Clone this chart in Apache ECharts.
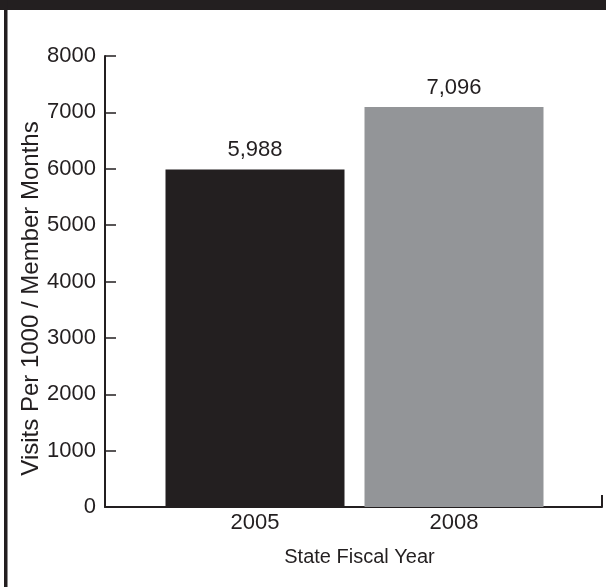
<!DOCTYPE html>
<html>
<head>
<meta charset="utf-8">
<script src="https://cdn.jsdelivr.net/npm/echarts@6/dist/echarts.min.js"></script>
<style>
  html, body { margin: 0; padding: 0; background: #fff; }
  #chart { width: 606px; height: 587px; }
</style>
</head>
<body>
<div id="chart"></div>
<script>
// 数据
const years = ['2005', '2008']
const visits = [5988, 7096]
const barColors = ['#231f20', '#939598']
const yTicks = [0, 1000, 2000, 3000, 4000, 5000, 6000, 7000, 8000]

const ink = '#231f20'
const font = 'Liberation Sans, Arial, Helvetica, sans-serif'

let chartDom = document.getElementById('chart')
let myChart = echarts.init(chartDom)
let option

option = {
    backgroundColor: '#fff',
    animation: false,
    textStyle: { fontFamily: font, color: ink },
    graphic: [
        // 顶部黑条和左侧边框
        { type: 'rect', shape: { x: 0, y: 0, width: 606, height: 10 }, style: { fill: ink } },
        { type: 'rect', shape: { x: 4, y: 0, width: 3.5, height: 587 }, style: { fill: ink } }
    ],
    grid: [
        { left: 105, right: 4, top: 56, bottom: 80 },
        { left: 155.5, right: 52.5, top: 56, bottom: 80 }
    ],
    xAxis: [
        {
            // 只画轴线和右端的刻度
            gridIndex: 0,
            type: 'category',
            data: [''],
            axisLine: { show: true, lineStyle: { color: ink, width: 2 } },
            axisTick: { show: true, inside: true, length: 12, interval: 0, lineStyle: { color: ink, width: 2 } },
            axisLabel: { show: false },
            name: 'State Fiscal Year',
            nameLocation: 'middle',
            nameGap: 40,
            nameMoveOverlap: false,
            nameTextStyle: { fontSize: 20, color: ink, fontFamily: font, padding: [0, 0, 0, 12] }
        },
        {
            gridIndex: 1,
            type: 'category',
            data: years,
            axisLine: { show: false },
            axisTick: { show: false },
            axisLabel: { fontSize: 22, color: ink, fontFamily: font, margin: 5 }
        }
    ],
    yAxis: [
        {
            gridIndex: 0,
            type: 'value',
            min: yTicks[0],
            max: yTicks[yTicks.length - 1],
            interval: 1000,
            splitLine: { show: false },
            axisLine: { show: true, lineStyle: { color: ink, width: 2 } },
            axisTick: { show: true, inside: true, length: 11, lineStyle: { color: ink, width: 1.5 } },
            axisLabel: { fontSize: 22, color: ink, fontFamily: font, margin: 9, formatter: v => String(v) },
            name: 'Visits Per 1000 / Member Months',
            nameLocation: 'middle',
            nameGap: 62,
            nameMoveOverlap: false,
            nameTextStyle: { fontSize: 24, color: ink, fontFamily: font, padding: [0, 34, 0, 0] }
        },
        {
            gridIndex: 1,
            type: 'value',
            min: yTicks[0],
            max: yTicks[yTicks.length - 1],
            show: false
        }
    ],
    series: [
        {
            type: 'bar',
            xAxisIndex: 1,
            yAxisIndex: 1,
            barWidth: 179,
            data: visits.map((v, i) => ({ value: v, itemStyle: { color: barColors[i] } })),
            label: {
                show: true,
                position: 'top',
                distance: 8,
                fontSize: 22,
                color: ink,
                fontFamily: font,
                formatter: p => p.value.toLocaleString('en-US')
            }
        }
    ]
}

option && myChart.setOption(option)
</script>
</body>
</html>
